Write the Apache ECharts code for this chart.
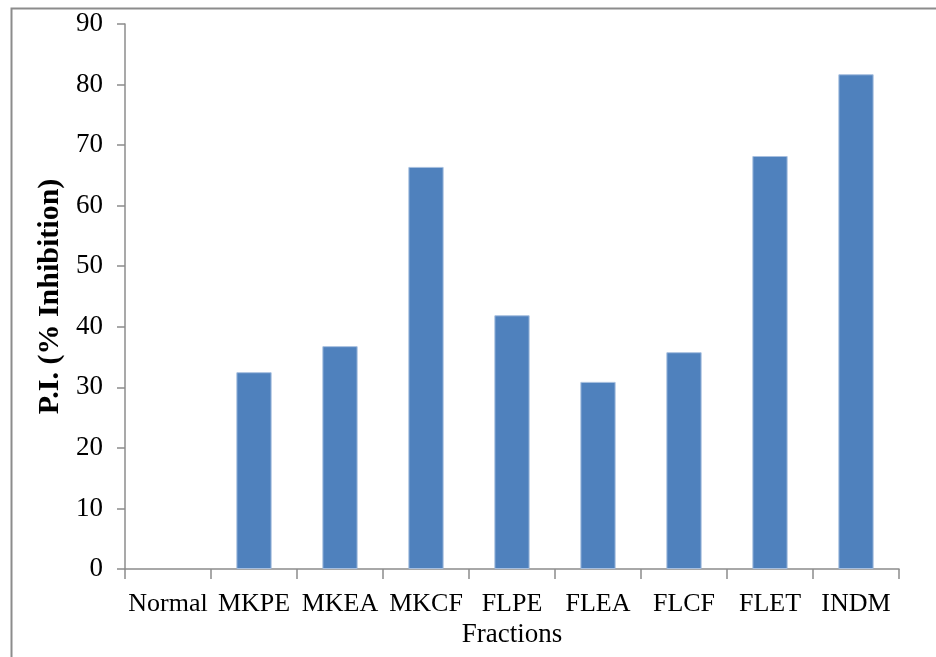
<!DOCTYPE html>
<html>
<head>
<meta charset="utf-8">
<title>P.I. (% Inhibition) by fraction</title>
<script src="https://cdn.jsdelivr.net/npm/echarts@6/dist/echarts.min.js"></script>
<style>
  html, body { margin: 0; padding: 0; background: #ffffff; }
  #chart { width: 936px; height: 657px; }
</style>
</head>
<body>
<div id="chart"></div>
<script>
// Fractions tested and their percent inhibition
const categories = ['Normal', 'MKPE', 'MKEA', 'MKCF', 'FLPE', 'FLEA', 'FLCF', 'FLET', 'INDM'];
const inhibition = [0, 32.5, 36.8, 66.4, 41.9, 30.9, 35.8, 68.2, 81.7];
const yTicks = { min: 0, max: 90, interval: 10 };

const serif = '"Liberation Serif", "Times New Roman", serif';
const axisGrey = '#8c8c8c';

// zero-height bars get no outline so they stay invisible
const barData = inhibition.map(v => v === 0
  ? { value: v, itemStyle: { borderWidth: 0 } }
  : v);

const chart = echarts.init(document.getElementById('chart'), null, { renderer: 'canvas' });

chart.setOption({
  backgroundColor: '#ffffff',
  animation: false,
  graphic: [{
    // chart-area frame, open to the right and bottom
    type: 'rect',
    left: 9, top: 6,
    shape: { width: 1000, height: 1000 },
    style: { fill: 'none', stroke: axisGrey, lineWidth: 2 },
    silent: true
  }],
  grid: { left: 125, right: 37, top: 24, bottom: 88, containLabel: false },
  xAxis: {
    type: 'category',
    data: categories,
    boundaryGap: true,
    name: 'Fractions',
    nameLocation: 'middle',
    nameGap: 51,
    nameTextStyle: { fontFamily: serif, fontSize: 27, color: '#000' },
    axisLine: { show: true, lineStyle: { color: axisGrey, width: 1.5 } },
    axisTick: { show: true, alignWithLabel: false, length: 10, lineStyle: { color: axisGrey, width: 1.5 } },
    axisLabel: { fontFamily: serif, fontSize: 26, color: '#000', margin: 22, interval: 0 },
    splitLine: { show: false }
  },
  yAxis: {
    type: 'value',
    min: yTicks.min,
    max: yTicks.max,
    interval: yTicks.interval,
    name: 'P.I. (% Inhibition)',
    nameLocation: 'middle',
    nameRotate: 90,
    nameGap: 51,
    nameTextStyle: { fontFamily: serif, fontSize: 30, fontWeight: 'bold', color: '#000' },
    axisLine: { show: true, lineStyle: { color: axisGrey, width: 1.5 } },
    axisTick: { show: true, length: 8, lineStyle: { color: axisGrey, width: 1.5 } },
    axisLabel: { fontFamily: serif, fontSize: 27, color: '#000', margin: 22 },
    splitLine: { show: false }
  },
  series: [{
    type: 'bar',
    data: barData,
    barWidth: '41%',
    itemStyle: { color: '#4f81bd', borderColor: '#a7bfdf', borderWidth: 1 }
  }]
});
</script>
</body>
</html>
